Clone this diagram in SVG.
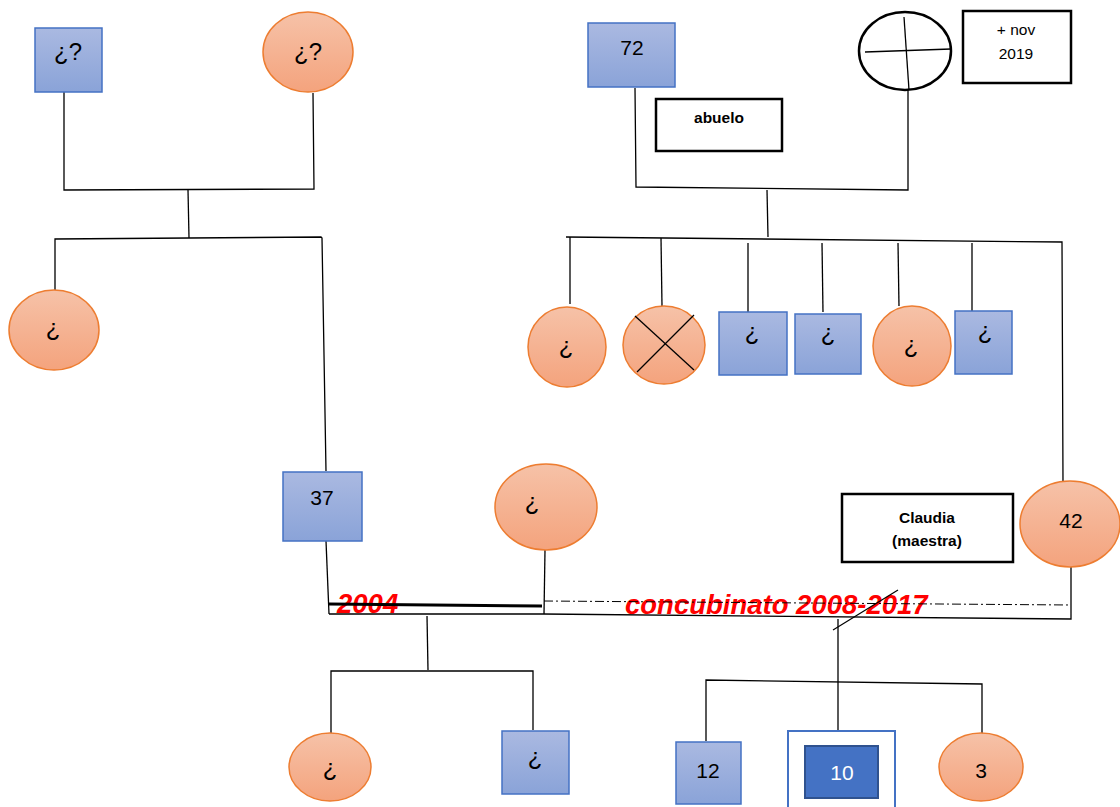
<svg xmlns="http://www.w3.org/2000/svg" width="1120" height="807" viewBox="0 0 1120 807">
<defs>
<linearGradient id="gb" x1="0" y1="0" x2="0" y2="1"><stop offset="0" stop-color="#AAB9E1"/><stop offset="1" stop-color="#8AA3D8"/></linearGradient>
<linearGradient id="go" x1="0" y1="0" x2="0" y2="1"><stop offset="0" stop-color="#F6C2A8"/><stop offset="1" stop-color="#F4A37D"/></linearGradient>
</defs>
<style>
.m{fill:url(#gb);stroke:#4472C4;stroke-width:1.5}
.f{fill:url(#go);stroke:#ED7D31;stroke-width:1.5}
.t{font-family:"Liberation Sans",Arial,sans-serif;font-size:21px;fill:#000;text-anchor:middle}
.q{font-family:"Liberation Sans",Arial,sans-serif;font-size:24px;fill:#000;text-anchor:middle}
.b{font-family:"Liberation Sans",Arial,sans-serif;font-size:15.5px;font-weight:bold;fill:#000;text-anchor:middle}
.n{font-family:"Liberation Sans",Arial,sans-serif;font-size:15.5px;fill:#000;text-anchor:middle}
.box{fill:#fff;stroke:#000;stroke-width:2.5}
.r{font-family:"Liberation Sans",Arial,sans-serif;font-size:27.5px;font-weight:bold;font-style:italic;fill:#FF0000}
.l{fill:none;stroke:#000;stroke-width:1.3}
</style>
<rect width="1120" height="807" fill="#fff"/>

<g id="label-2004"><text class="r" x="337" y="613">2004</text></g>
<g id="label-concubinato"><text class="r" x="625" y="614">concubinato 2008-2017</text></g>

<g id="connectors">
<polyline class="l" points="64,92 64,190 314,189 313,93"/>
<line class="l" x1="188" y1="190" x2="189" y2="238"/>
<polyline class="l" points="55,290 55,239 321,237 322,238 326,471"/>
<polyline class="l" points="635,88 636,187 908,190 908,90"/>
<line class="l" x1="767" y1="190" x2="768" y2="237"/>
<polyline class="l" points="566,237 1062,242 1063,481"/>
<line class="l" x1="570" y1="237" x2="570" y2="304"/>
<line class="l" x1="661" y1="238" x2="662" y2="306"/>
<line class="l" x1="748" y1="243" x2="748" y2="312"/>
<line class="l" x1="822" y1="243" x2="823" y2="312"/>
<line class="l" x1="898" y1="243" x2="899" y2="306"/>
<line class="l" x1="972" y1="243" x2="972" y2="311"/>
<line class="l" x1="326" y1="541" x2="329" y2="614"/>
<line class="l" x1="545" y1="550" x2="544" y2="614"/>
<line x1="329" y1="604" x2="542" y2="606" stroke="#000" stroke-width="3"/>
<polyline class="l" points="329,614 543,614 1071,619 1071,567"/>
<line x1="544" y1="601" x2="1071" y2="605" stroke="#000" stroke-width="1" stroke-dasharray="9 3 2 3"/>
<line class="l" x1="833" y1="630" x2="898" y2="590"/>
<line class="l" x1="427" y1="616" x2="428" y2="670"/>
<polyline class="l" points="331,733 331,671 533,671 533,730"/>
<line class="l" x1="838" y1="619" x2="838" y2="731"/>
<polyline class="l" points="706,741 706,680 982,684 982,734"/>
</g>

<g id="n-top-left-male"><rect class="m" x="35" y="28" width="67" height="64"/><text class="q" x="68" y="60">¿?</text></g>
<g id="n-top-left-female"><ellipse class="f" cx="308" cy="52" rx="45" ry="40"/><text class="q" x="308" y="60">¿?</text></g>
<g id="n-aunt-left"><ellipse class="f" cx="54" cy="330" rx="45" ry="40"/><text class="q" x="53" y="336">¿</text></g>
<g id="n-father-37"><rect class="m" x="283" y="472" width="79" height="69"/><text class="t" x="322" y="505">37</text></g>
<g id="n-first-partner"><ellipse class="f" cx="546" cy="507" rx="51" ry="43"/><text class="q" x="532" y="510">¿</text></g>
<g id="n-grandfather-72"><rect class="m" x="588" y="23" width="87" height="64"/><text class="t" x="632" y="55">72</text></g>
<g id="n-grandmother-deceased"><ellipse cx="905" cy="51" rx="46" ry="39" fill="#fff" stroke="#000" stroke-width="2.5"/><line class="l" x1="904" y1="17" x2="909" y2="90"/><line class="l" x1="865" y1="52" x2="951" y2="49"/></g>
<g id="n-note-nov-2019"><rect class="box" x="963" y="11" width="108" height="72"/><text class="n" x="1016" y="35">+ nov</text><text class="n" x="1016" y="59">2019</text></g>
<g id="n-note-abuelo"><rect class="box" x="656" y="99" width="126" height="52"/><text class="b" x="719" y="123">abuelo</text></g>
<g id="n-sib-1"><ellipse class="f" cx="567" cy="347" rx="39" ry="40"/><text class="q" x="566" y="354">¿</text></g>
<g id="n-sib-2-deceased"><ellipse class="f" cx="664" cy="345" rx="41" ry="39"/><line class="l" x1="635" y1="316" x2="694" y2="370"/><line class="l" x1="694" y1="315" x2="637" y2="372"/></g>
<g id="n-sib-3"><rect class="m" x="719" y="312" width="68" height="63"/><text class="q" x="752" y="340">¿</text></g>
<g id="n-sib-4"><rect class="m" x="795" y="314" width="66" height="60"/><text class="q" x="828" y="341">¿</text></g>
<g id="n-sib-5"><ellipse class="f" cx="912" cy="346" rx="39" ry="40"/><text class="q" x="911" y="353">¿</text></g>
<g id="n-sib-6"><rect class="m" x="955" y="311" width="57" height="63"/><text class="q" x="985" y="339">¿</text></g>
<g id="n-note-claudia"><rect class="box" x="842" y="494" width="171" height="68"/><text class="b" x="927" y="523">Claudia</text><text class="b" x="927" y="546">(maestra)</text></g>
<g id="n-mother-42"><ellipse class="f" cx="1070" cy="524" rx="50" ry="43"/><text class="t" x="1071" y="528">42</text></g>
<g id="n-half-sister"><ellipse class="f" cx="330" cy="767" rx="41" ry="34"/><text class="q" x="330" y="776">¿</text></g>
<g id="n-half-brother"><rect class="m" x="502" y="731" width="67" height="63"/><text class="q" x="535" y="765">¿</text></g>
<g id="n-child-12"><rect class="m" x="676" y="742" width="65" height="62"/><text class="t" x="708" y="778">12</text></g>
<g id="n-child-10-index"><rect x="788" y="731" width="107" height="80" fill="#fff" stroke="#4472C4" stroke-width="2"/><rect x="805" y="746" width="73" height="52" fill="#4472C4" stroke="#2F528F" stroke-width="2"/><text class="t" x="842" y="780" style="fill:#fff">10</text></g>
<g id="n-child-3"><ellipse class="f" cx="981" cy="767" rx="42" ry="34"/><text class="t" x="981" y="778">3</text></g>
</svg>
